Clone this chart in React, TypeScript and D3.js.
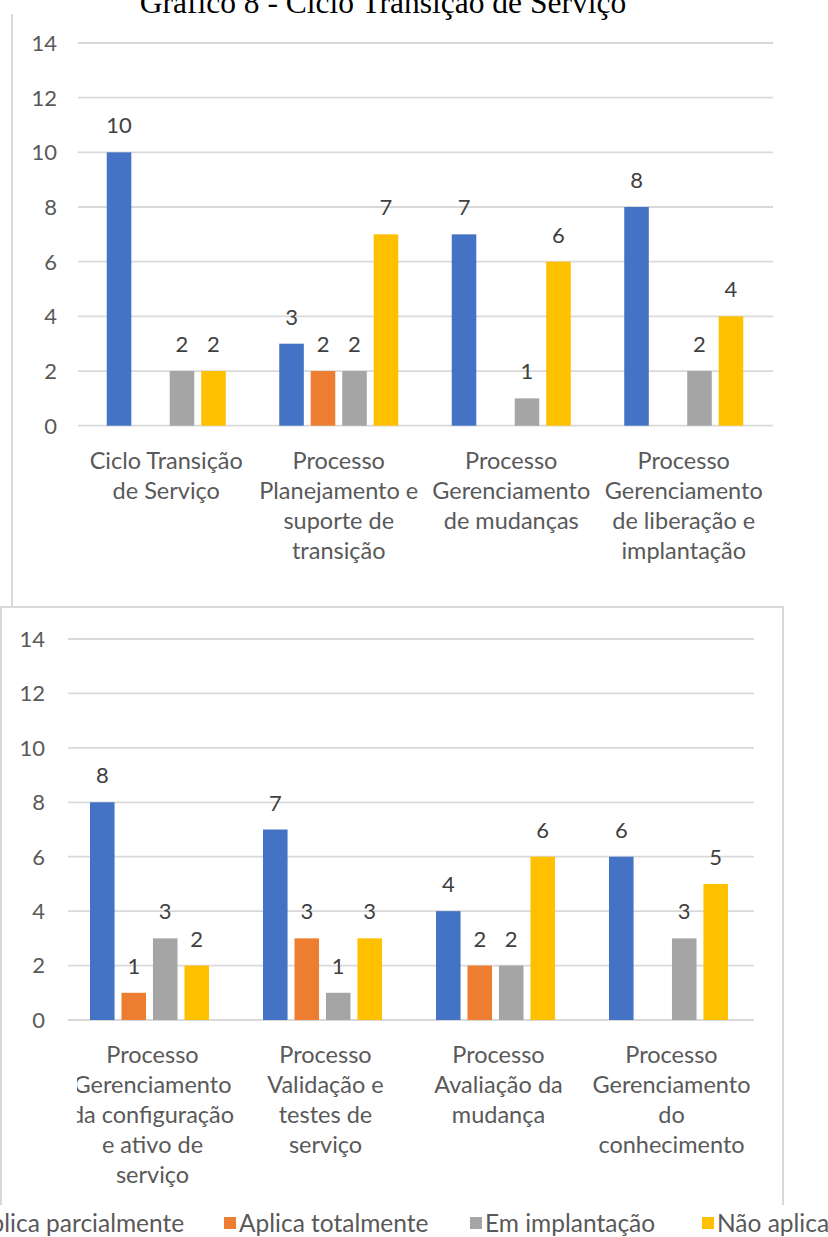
import React from 'react';
import * as d3 from 'd3';

const series = ['Aplica parcialmente', 'Aplica totalmente', 'Em implantação', 'Não aplica'];
const colors = ['#4472C4', '#ED7D31', '#A5A5A5', '#FFC000'];

const topCategories = [
  ['Ciclo Transição', 'de Serviço'],
  ['Processo', 'Planejamento e', 'suporte de', 'transição'],
  ['Processo', 'Gerenciamento', 'de mudanças'],
  ['Processo', 'Gerenciamento', 'de liberação e', 'implantação'],
];
const topValues = [
  [10, 0, 2, 2],
  [3, 2, 2, 7],
  [7, 0, 1, 6],
  [8, 0, 2, 4],
];

const bottomCategories = [
  ['Processo', 'Gerenciamento', 'da configuração', 'e ativo de', 'serviço'],
  ['Processo', 'Validação e', 'testes de', 'serviço'],
  ['Processo', 'Avaliação da', 'mudança'],
  ['Processo', 'Gerenciamento', 'do', 'conhecimento'],
];
const bottomValues = [
  [8, 1, 3, 2],
  [7, 3, 1, 3],
  [4, 2, 2, 6],
  [6, 0, 3, 5],
];

const yTicks = [0, 2, 4, 6, 8, 10, 12, 14];

const FONT = 'Lato, "Liberation Sans", sans-serif';
const TEXT = '#595959';
const GRID = '#D9D9D9';

type PanelProps = {
  cats: string[][];
  values: number[][];
  xRange: [number, number];
  gridX: [number, number];
  yRange: [number, number];
  tickRight: number;
  labelShift?: number;
  clipId?: string;
  clipX?: number;
};

const Panel = ({ cats, values, xRange, gridX, yRange, tickRight, labelShift = 0, clipId, clipX }: PanelProps) => {
  const names = cats.map(c => c.join(' '));
  const x0 = d3.scaleBand().domain(names).range(xRange);
  const pad = (x0.bandwidth() - 119) / 2;
  const x1 = d3.scaleBand().domain(series).range([pad, x0.bandwidth() - pad]).paddingInner(0.22);
  const y = d3.scaleLinear().domain([0, 14]).range(yRange);

  return (
    <g fontFamily={FONT}>
      {clipId && (
        <defs>
          <clipPath id={clipId}>
            <rect x={clipX} y={0} width={800} height={1237} />
          </clipPath>
        </defs>
      )}
      {yTicks.map(t => (
        <g key={t}>
          <line x1={gridX[0]} x2={gridX[1]} y1={y(t)} y2={y(t)} stroke={GRID} strokeWidth={1.8} />
          <text x={tickRight} y={y(t)} dy="0.36em" textAnchor="end" fontSize={22} fill={TEXT}>{t}</text>
        </g>
      ))}
      {values.map((row, i) => (
        <g key={i} transform={`translate(${x0(names[i])},0)`}>
          {row.map((v, j) => v > 0 && (
            <g key={j}>
              <rect x={x1(series[j])} y={y(v)} width={x1.bandwidth()} height={y(0) - y(v)} fill={colors[j]} />
              <text x={(x1(series[j]) as number) + x1.bandwidth() / 2} y={y(v) - 19} textAnchor="middle" fontSize={22} fill="#404040">{v}</text>
            </g>
          ))}
        </g>
      ))}
      <g clipPath={clipId ? `url(#${clipId})` : undefined}>
        {cats.map((lines, i) => {
          const cx = (x0(names[i]) as number) + x0.bandwidth() / 2 + labelShift;
          return (
            <text key={i} x={cx} y={yRange[0] + 43} textAnchor="middle" fontSize={23.5} fill={TEXT}>
              {lines.map((l, k) => (
                <tspan key={k} x={cx} dy={k === 0 ? 0 : 30}>{l}</tspan>
              ))}
            </text>
          );
        })}
      </g>
    </g>
  );
};

// legend square positions; the first item runs off the left edge as in the source image
const legendX = [-41, 224, 470, 702];

export default function App() {
  return (
    <svg width={828} height={1237} style={{ position: 'absolute', left: 0, top: 0, background: '#fff' }}>
      <rect width={828} height={1237} fill="#fff" />
      <text x={383} y={13} textAnchor="middle" fontFamily='"Liberation Serif", "Times New Roman", serif' fontSize={31.5} fill="#000">
        Gráfico 8 - Ciclo Transição de Serviço
      </text>
      <line x1={12} x2={12} y1={14} y2={607} stroke={GRID} strokeWidth={2} />
      <Panel cats={topCategories} values={topValues} xRange={[80, 770]} gridX={[78, 773]} yRange={[425.7, 43]} tickRight={57} />

      <path d="M1,1205 V607 H783 V1205" fill="none" stroke={GRID} strokeWidth={2} />
      <Panel cats={bottomCategories} values={bottomValues} xRange={[63, 755]} gridX={[68, 754]} yRange={[1020, 639]} tickRight={45} labelShift={3} clipId="botClip" clipX={77} />

      <g fontFamily={FONT} fontSize={24.5} fill={TEXT}>
        {series.map((s, i) => (
          <g key={s} transform={`translate(${legendX[i]},1223)`}>
            <rect x={0} y={-6} width={12} height={12} fill={colors[i]} />
            <text x={15} dy="0.36em">{s}</text>
          </g>
        ))}
      </g>
    </svg>
  );
}
